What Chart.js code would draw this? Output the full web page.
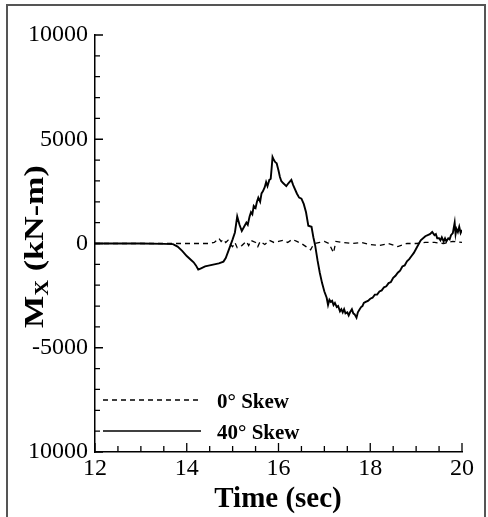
<!DOCTYPE html>
<html>
<head>
<meta charset="utf-8">
<script src="https://cdn.jsdelivr.net/npm/chart.js@4.4.1/dist/chart.umd.min.js"></script>
<style>
  html, body { margin: 0; padding: 0; background: #fff; }
  canvas { display: block; }
</style>
</head>
<body>
<canvas id="grafik" width="488" height="517"></canvas>
<script>
// data (waktu dalam detik, momen dalam kN-m)
const waktu0 = [12, 13, 14, 14.5, 14.6, 14.65, 14.7, 14.75, 14.8, 14.85, 14.9, 14.95, 15.0, 15.05, 15.1, 15.2, 15.3, 15.35, 15.4, 15.5,
  15.55, 15.6, 15.7, 15.8, 15.9, 16.0, 16.1, 16.2, 16.3, 16.4, 16.5, 16.6, 16.7, 16.75, 16.8, 16.9, 17.0, 17.1, 17.2, 17.25,
  17.4, 17.6, 17.8, 18.0, 18.2, 18.4, 18.6, 18.8, 19.0, 19.2, 19.4, 19.6, 19.8, 20.0];
const momen0 = [0, 0, 0, 0, 50, 150, 250, 100, 200, 50, 150, -50, -150, 50, -200, -100, 100, -100, 150, 50,
  -150, 100, -50, 150, 50, 100, 150, 50, 200, 100, 0, -150, -300, -100, 0, 50, 100, 0, -450, 100,
  50, 0, 50, -50, -100, 0, -150, 0, 0, 50, 50, 0, 100, 50];

const waktu40 = [12, 13, 13.5, 13.7, 13.8, 13.9, 14.0, 14.1, 14.15, 14.2, 14.25, 14.3, 14.4, 14.5, 14.6, 14.7, 14.8, 14.85, 14.9, 14.95,
  15.0, 15.05, 15.1, 15.15, 15.2, 15.25, 15.3, 15.33, 15.37, 15.4, 15.43, 15.46, 15.5, 15.53, 15.56, 15.6, 15.63, 15.66, 15.7, 15.73,
  15.76, 15.8, 15.83, 15.85, 15.87, 15.9, 15.93, 15.96, 16.0, 16.03, 16.06, 16.1, 16.17, 16.22, 16.28, 16.32, 16.4, 16.45, 16.5, 16.55,
  16.6, 16.65, 16.72, 16.76, 16.8, 16.85, 16.9, 16.95, 17.0, 17.05, 17.08, 17.11, 17.14, 17.17, 17.2, 17.23, 17.27, 17.3, 17.34, 17.37,
  17.4, 17.43, 17.46, 17.5, 17.53, 17.56, 17.6, 17.63, 17.66, 17.7, 17.73, 17.77, 17.8, 17.83, 17.86, 17.9, 17.95, 18.0, 18.05, 18.1,
  18.15, 18.2, 18.25, 18.3, 18.35, 18.4, 18.45, 18.5, 18.55, 18.6, 18.65, 18.7, 18.75, 18.8, 18.85, 18.9, 18.95, 19.0, 19.05, 19.1,
  19.2, 19.3, 19.35, 19.4, 19.43, 19.46, 19.5, 19.53, 19.56, 19.6, 19.63, 19.66, 19.7, 19.73, 19.76, 19.8, 19.82, 19.84, 19.86, 19.88,
  19.91, 19.94, 19.97, 20.0];
const momen40 = [0, 0, -20, -30, -150, -350, -600, -800, -900, -1050, -1250, -1200, -1100, -1050, -1000, -950, -870, -700, -400, -100,
  200, 530, 1300, 900, 600, 800, 1000, 900, 1300, 1500, 1400, 1800, 1700, 2000, 2200, 2000, 2400, 2500, 2700, 2950,
  2750, 3050, 3100, 3600, 4150, 4000, 3900, 3850, 3500, 3200, 3000, 2900, 2750, 2900, 3050, 2800, 2400, 2200, 2150, 1900,
  1500, 850, 800, 300, -100, -800, -1400, -1900, -2300, -2600, -2950, -2700, -2800, -2750, -2950, -2850, -3050, -3000, -3250, -3150,
  -3300, -3150, -3350, -3300, -3450, -3300, -3150, -3350, -3400, -3560, -3300, -3150, -3050, -3000, -2850, -2800, -2750, -2650, -2600, -2450,
  -2450, -2300, -2250, -2100, -2050, -1900, -1850, -1650, -1550, -1400, -1300, -1100, -1050, -850, -750, -600, -450, -250, -50, 150,
  350, 450, 550, 400, 450, 250, 250, 150, 300, 100, 250, 100, 250, 200, 400, 500, 750, 1000, 450, 700,
  550, 800, 500, 650];

const labelSeri = ["0° Skew", "40° Skew"];
const tickX = [12, 14, 16, 18, 20];
const tickY = [-10000, -5000, 0, 5000, 10000];

const fontSerif = "'Liberation Serif', 'Times New Roman', serif";

// gambar bingkai, tick ke dalam, judul sumbu dan legenda
const hiasan = {
  id: "hiasan",
  beforeDraw(chart) {
    const ctx = chart.ctx;
    ctx.save();
    ctx.fillStyle = "#fff";
    ctx.fillRect(0, 0, chart.width, chart.height);
    ctx.strokeStyle = "#555";
    ctx.lineWidth = 2;
    ctx.strokeRect(7, 5, 478, 540);
    ctx.restore();
  },
  afterDraw(chart) {
    const ctx = chart.ctx;
    const sx = chart.scales.x, sy = chart.scales.y;
    const a = chart.chartArea;
    ctx.save();
    ctx.strokeStyle = "#000";
    ctx.lineWidth = 1.3;
    ctx.beginPath();
    for (let t = 12; t <= 20.001; t += 0.5) {
      const px = sx.getPixelForValue(t);
      const pj = tickX.includes(t) ? 9 : 6;
      ctx.moveTo(px, a.bottom);
      ctx.lineTo(px, a.bottom - pj);
    }
    for (let v = -10000; v <= 10000; v += 1000) {
      const py = sy.getPixelForValue(v);
      const pj = tickY.includes(v) ? 8 : 5;
      ctx.moveTo(a.left, py);
      ctx.lineTo(a.left + pj, py);
    }
    ctx.stroke();

    // judul sumbu x
    ctx.fillStyle = "#000";
    ctx.font = "bold 29px " + fontSerif;
    ctx.textAlign = "center";
    ctx.textBaseline = "alphabetic";
    ctx.fillText("Time (sec)", 278, 507);

    // judul sumbu y dengan subskrip (sedikit memanjang seperti aslinya)
    ctx.save();
    ctx.translate(43, 328);
    ctx.rotate(-Math.PI / 2);
    ctx.scale(1.22, 1);
    ctx.textAlign = "left";
    ctx.font = "bold 28px " + fontSerif;
    ctx.fillText("M", 0, 0);
    let w = ctx.measureText("M").width;
    ctx.font = "bold 18px " + fontSerif;
    ctx.fillText("X", w, 5);
    w += ctx.measureText("X").width;
    ctx.font = "bold 28px " + fontSerif;
    ctx.fillText(" (kN-m)", w, 0);
    ctx.restore();

    // legenda
    ctx.font = "bold 21px " + fontSerif;
    ctx.textAlign = "left";
    ctx.lineWidth = 1.3;
    ctx.setLineDash([5, 4]);
    ctx.beginPath();
    ctx.moveTo(103, 400);
    ctx.lineTo(201, 400);
    ctx.stroke();
    ctx.setLineDash([]);
    ctx.lineWidth = 1.6;
    ctx.beginPath();
    ctx.moveTo(103, 431);
    ctx.lineTo(201, 431);
    ctx.stroke();
    ctx.fillText(labelSeri[0], 217, 408);
    ctx.fillText(labelSeri[1], 217, 439);
    ctx.restore();
  }
};

const titik = (xs, ys) => xs.map((x, i) => ({ x: x, y: ys[i] }));

new Chart(document.getElementById("grafik"), {
  type: "line",
  data: {
    datasets: [
      { label: labelSeri[0], data: titik(waktu0, momen0), borderColor: "#000", borderWidth: 1.3, borderDash: [5, 4], pointRadius: 0, tension: 0 },
      { label: labelSeri[1], data: titik(waktu40, momen40), borderColor: "#000", borderWidth: 1.9, pointRadius: 0, tension: 0 }
    ]
  },
  options: {
    responsive: false,
    animation: false,
    layout: { padding: { top: 35, right: 26, left: 0, bottom: 0 } },
    plugins: { legend: { display: false }, tooltip: { enabled: false } },
    scales: {
      x: {
        type: "linear", min: 12, max: 20,
        afterBuildTicks: s => { s.ticks = tickX.map(v => ({ value: v })); },
        afterFit: s => { s.height = 65; },
        ticks: { color: "#000", font: { family: fontSerif, size: 24 }, padding: 2, maxRotation: 0 },
        grid: { drawOnChartArea: false, drawTicks: false },
        border: { color: "#000", width: 1.5 }
      },
      y: {
        min: -10000, max: 10000,
        afterBuildTicks: s => { s.ticks = tickY.map(v => ({ value: v })); },
        afterFit: s => { s.width = 95; },
        ticks: {
          color: "#000", font: { family: fontSerif, size: 24 }, padding: 7,
          callback: v => (v === -10000 ? "10000" : String(v))
        },
        grid: { drawOnChartArea: false, drawTicks: false },
        border: { color: "#000", width: 1.5 }
      }
    }
  },
  plugins: [hiasan]
});
</script>
</body>
</html>
